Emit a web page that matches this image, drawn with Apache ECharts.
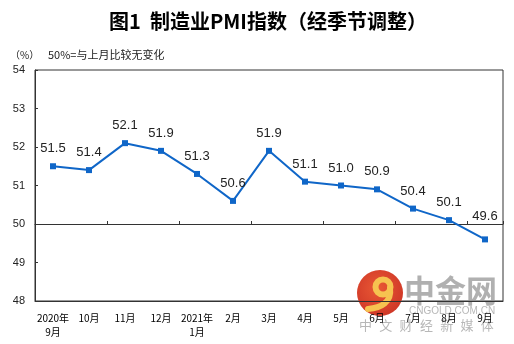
<!DOCTYPE html>
<html>
<head>
<meta charset="utf-8">
<script src="https://cdn.jsdelivr.net/npm/echarts@6/dist/echarts.min.js"></script>
<style>
  html, body { margin: 0; padding: 0; background: #fff; }
  #chart { width: 514px; height: 344px; }
</style>
</head>
<body>
<div id="chart"></div>
<script>
// Manufacturing PMI, seasonally adjusted, Sep 2020 - Sep 2021
const months = ['2020年\n9月', '10月', '11月', '12月', '2021年\n1月', '2月', '3月', '4月', '5月', '6月', '7月', '8月', '9月'];
const pmi = [51.5, 51.4, 52.1, 51.9, 51.3, 50.6, 51.9, 51.1, 51.0, 50.9, 50.4, 50.1, 49.6];
const yTicks = [48, 49, 50, 51, 52, 53, 54];

const FONT = "'Liberation Sans', 'Noto Sans CJK SC', sans-serif";
const CJK = "'Noto Sans CJK SC', 'Liberation Sans', sans-serif";
const LINE = '#0f66c8';

const chart = echarts.init(document.getElementById('chart'), null, { renderer: 'canvas' });

const seriesData = pmi.map((v, i) => ({
  value: v,
  label: { distance: i === pmi.length - 1 ? 13 : 8 }
}));

// watermark tagline, one glyph at a time for wide tracking
const tagline = '中文财经新媒体'.split('').map((ch, i) => ({
  type: 'text', x: 359 + i * 20.3, y: 319,
  style: { text: ch, font: '13px ' + CJK, fill: 'rgba(165,165,165,0.8)' }
}));

chart.setOption({
  animation: false,
  backgroundColor: '#fff',
  title: {
    text: '图1  制造业PMI指数（经季节调整）',
    left: 104,
    top: 6,
    textStyle: { fontFamily: CJK, fontSize: 20, fontWeight: 'bold', color: '#000' }
  },
  grid: [
    // main plot box
    { left: 35, right: 11, top: 70, bottom: 43, show: true, borderColor: '#333', borderWidth: 1, backgroundColor: 'transparent' },
    // upper band ending at the 50 reference line
    { left: 35, right: 11, top: 70, height: 154, show: false }
  ],
  xAxis: [
    {
      gridIndex: 0, type: 'category', data: months, boundaryGap: true,
      axisLine: { show: true, lineStyle: { color: '#333', width: 1 } },
      axisTick: { show: false },
      axisLabel: { fontFamily: CJK, fontSize: 10, color: '#000', lineHeight: 14, margin: 10, interval: 0 }
    },
    {
      gridIndex: 1, type: 'category', data: months, boundaryGap: true, position: 'bottom',
      axisLine: { show: true, lineStyle: { color: '#333', width: 1 } },
      axisTick: { show: true, inside: true, length: 3, lineStyle: { color: '#333' } },
      axisLabel: { show: false }
    }
  ],
  yAxis: [
    {
      gridIndex: 0, type: 'value', min: yTicks[0], max: yTicks[yTicks.length - 1], interval: 1,
      axisLine: { show: true, lineStyle: { color: '#333', width: 1 } },
      axisTick: { show: true, inside: true, length: 3, lineStyle: { color: '#333' } },
      axisLabel: { fontFamily: FONT, fontSize: 11, color: '#222', margin: 10 },
      splitLine: { show: false }
    },
    { gridIndex: 1, type: 'value', show: false, min: 50, max: 54 }
  ],
  series: [{
    type: 'line',
    xAxisIndex: 0, yAxisIndex: 0,
    data: seriesData,
    symbol: 'rect',
    symbolSize: 6,
    lineStyle: { color: LINE, width: 2 },
    itemStyle: { color: LINE },
    label: {
      show: true, position: 'top',
      fontFamily: FONT, fontSize: 13, color: '#222',
      formatter: p => p.value.toFixed(1)
    },
    z: 3
  }],
  graphic: [
    { type: 'text', left: 10, top: 50, style: { text: '（%）', font: '10px ' + CJK, fill: '#222' } },
    { type: 'text', left: 48, top: 49, style: { text: '50%=与上月比较无变化', font: '11px ' + CJK, fill: '#222' } },
    // site watermark
    {
      type: 'group', z: 100, silent: true,
      children: [
        { type: 'circle', shape: { cx: 380, cy: 293, r: 23 },
          style: { fill: new echarts.graphic.RadialGradient(0.45, 0.4, 0.7, [{ offset: 0, color: '#e8502a' }, { offset: 1, color: '#c9281a' }]), opacity: 0.95 } },
        { type: 'arc', shape: { cx: 383, cy: 287, r: 7.5, startAngle: 0, endAngle: Math.PI * 2 },
          style: { stroke: '#f6c350', lineWidth: 6, fill: null } },
        { type: 'bezierCurve', shape: { x1: 390, y1: 288, x2: 368, y2: 309, cpx1: 392, cpy1: 302, cpx2: 381, cpy2: 308 },
          style: { stroke: '#f6c350', lineWidth: 6, fill: null, lineCap: 'round' } },
        { type: 'text', x: 404, y: 275,
          style: { text: '中金网', font: 'bold 31px ' + CJK, fill: 'rgba(150,150,150,0.75)' } },
        { type: 'text', x: 409, y: 306,
          style: { text: 'CNGOLD.COM.CN', font: '10px ' + FONT, fill: 'rgba(165,165,165,0.8)' } }
      ].concat(tagline)
    }
  ]
});
</script>
</body>
</html>
